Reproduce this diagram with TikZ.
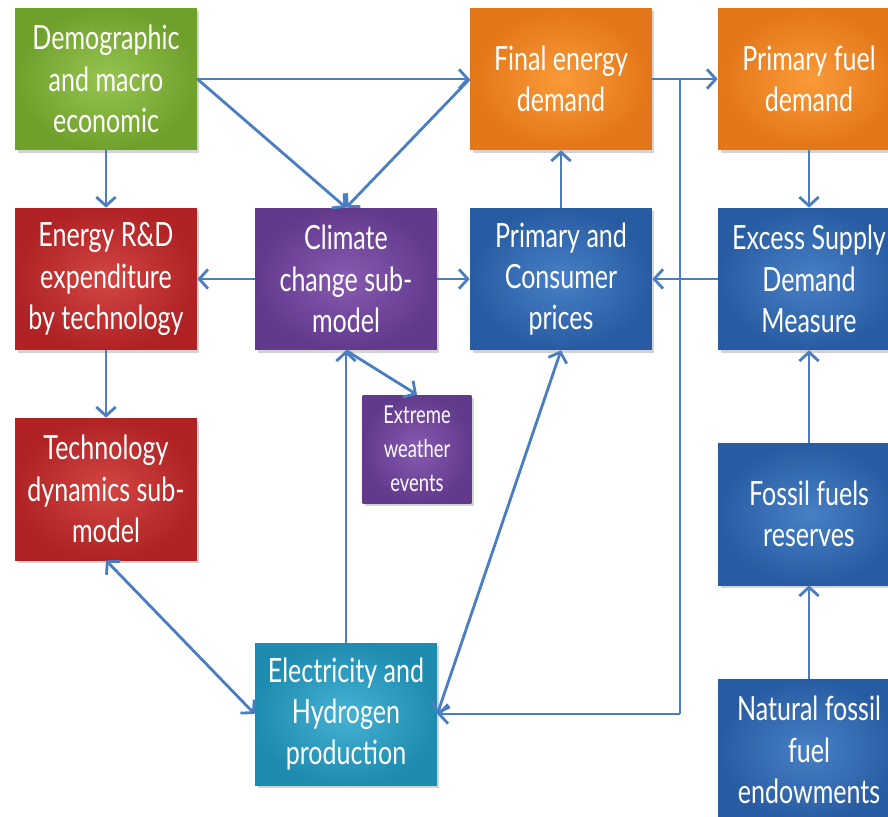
\documentclass[tikz,border=0pt]{standalone}
\usepackage{fontspec}
\setmainfont{Lato}[FakeStretch=0.75]
\usetikzlibrary{arrows.meta,shadows}
\definecolor{arrowblue}{RGB}{74,126,193}
\definecolor{greenout}{RGB}{112,160,44}
\definecolor{greenin}{RGB}{150,196,80}
\definecolor{redout}{RGB}{176,34,36}
\definecolor{redin}{RGB}{210,70,66}
\definecolor{purpout}{RGB}{98,58,140}
\definecolor{purpin}{RGB}{134,90,176}
\definecolor{blueout}{RGB}{40,92,162}
\definecolor{bluein}{RGB}{72,128,196}
\definecolor{orangeout}{RGB}{226,118,24}
\definecolor{orangein}{RGB}{250,154,56}
\definecolor{tealout}{RGB}{30,140,176}
\definecolor{tealin}{RGB}{70,178,212}
\begin{document}
\begin{tikzpicture}[x=0.02cm,y=-0.02cm,
  box/.style={minimum width=3.64cm,minimum height=2.84cm,inner sep=1pt,align=center,text=white,
    font=\fontsize{19}{23.5}\selectfont,
    drop shadow={opacity=0.35,shadow xshift=0.05cm,shadow yshift=-0.06cm}},
  greenbox/.style={box,inner color=greenin,outer color=greenout},
  redbox/.style={box,inner color=redin,outer color=redout},
  purpbox/.style={box,inner color=purpin,outer color=purpout},
  bluebox/.style={box,inner color=bluein,outer color=blueout},
  orangebox/.style={box,inner color=orangein,outer color=orangeout},
  tealbox/.style={box,inner color=tealin,outer color=tealout},
  smallbox/.style={purpbox,minimum width=2.18cm,minimum height=2.16cm,font=\fontsize{14}{19.5}\selectfont},
  arr/.style={draw=arrowblue,line width=1.6pt,-{Straight Barb[length=5pt,width=11pt,line width=1.6pt]}},
  darr/.style={arr,{Straight Barb[length=5pt,width=11pt,line width=1.6pt]}-{Straight Barb[length=5pt,width=11pt,line width=1.6pt]}},
  line/.style={draw=arrowblue,line width=1.6pt}]
\useasboundingbox (0,0) rectangle (888,816);
\node[greenbox] (dem) at (106,79) {Demographic\\and macro\\economic};
\node[redbox] (rnd) at (106,279) {Energy R\&D\\expenditure\\by technology};
\node[redbox] (tec) at (106,489) {Technology\\dynamics sub-\\model};
\node[purpbox] (cli) at (346,279) {Climate\\change sub-\\model};
\node[smallbox] (ext) at (417,449) {Extreme\\weather\\events};
\node[tealbox] (ele) at (346,714) {Electricity and\\Hydrogen\\production};
\node[orangebox] (fin) at (561,79) {Final energy\\demand};
\node[bluebox] (pri) at (561,279) {Primary and\\Consumer\\prices};
\node[orangebox] (pfd) at (809,79) {Primary fuel\\demand};
\node[bluebox] (exc) at (809,279) {Excess Supply\\Demand\\Measure};
\node[bluebox] (fos) at (809,514) {Fossil fuels\\reserves};
\node[bluebox] (nat) at (809,750) {Natural fossil\\fuel\\endowments};
\coordinate (jtop) at (680,79);
\coordinate (jbot) at (680,714);
\draw[arr] (dem) -- (fin);
\draw[arr] (dem.east) -- (cli.north);
\draw[arr] (fin.west) -- (cli.north);
\draw[arr] (dem) -- (rnd);
\draw[arr] (rnd) -- (tec);
\draw[arr] (cli) -- (rnd);
\draw[arr] (cli) -- (pri);
\draw[arr] (pri) -- (fin);
\draw[arr] (fin) -- (pfd);
\draw[line] (jtop) -- (jbot);
\draw[arr] (jbot) -- (ele.east);
\draw[arr] (pfd) -- (exc);
\draw[arr] (exc) -- (pri);
\draw[arr] (fos) -- (exc);
\draw[arr] (nat) -- (fos);
\draw[arr] (cli.south) -- (ext.north);
\draw[arr] (ele) -- (cli);
\draw[darr] (ele.east) -- (pri.south);
\draw[darr] (tec.south) -- (ele.west);
\end{tikzpicture}
\end{document}
